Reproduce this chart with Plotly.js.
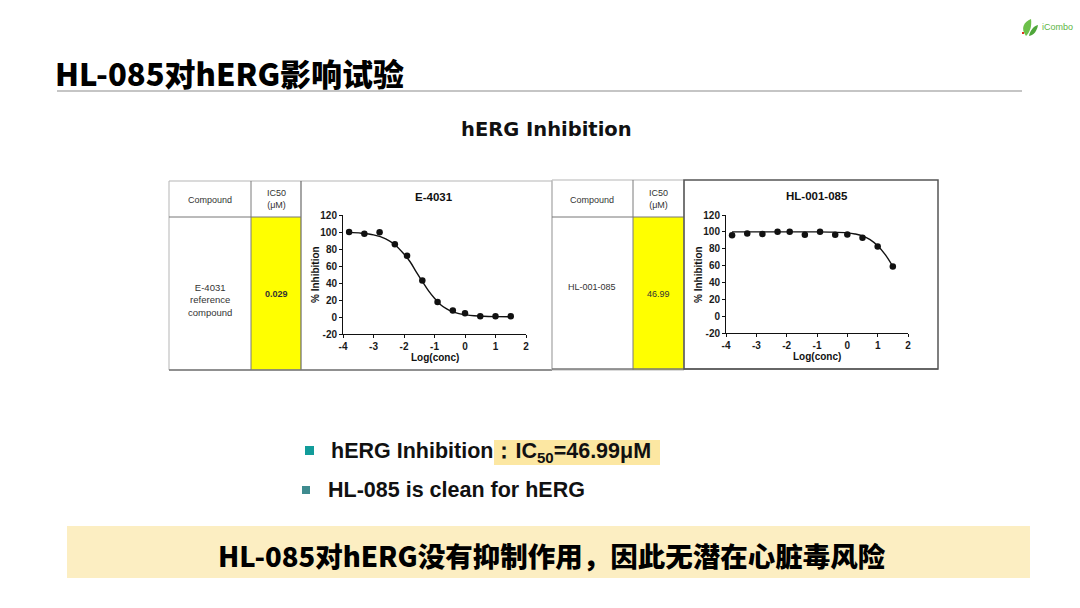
<!DOCTYPE html>
<html>
<head>
<meta charset="utf-8">
<script src="https://cdn.plot.ly/plotly-3.0.1.min.js"></script>
<style>html,body{margin:0;padding:0;background:#fff;}#chart{width:1080px;height:608px;}</style>
</head>
<body>
<div id="chart"></div>
<script>
// ---- data ----
const xTicks = [-4, -3, -2, -1, 0, 1, 2];
const yTicks = [-20, 0, 20, 40, 60, 80, 100, 120];

const e4031LogConc = [-3.8, -3.3, -2.8, -2.3, -1.9, -1.4, -0.9, -0.4, 0.0, 0.5, 1.0, 1.5];
const e4031Inhibition = [100, 98, 99.7, 85.5, 72, 43, 17.5, 7.5, 4.5, 0.8, 0.8, 0.8];
const e4031FitLogConc = [-3.8, -3.4, -3.0, -2.6, -2.3, -2.0, -1.8, -1.6, -1.4, -1.2, -1.0, -0.8, -0.6, -0.4, -0.2, 0.0, 0.3, 0.6, 1.0, 1.5];
const e4031FitInhibition = [99.5, 98.6, 96.6, 92, 85, 74, 65, 53, 42, 31, 22, 14.5, 9.5, 6, 4, 2.8, 1.5, 0.8, 0.4, 0.2];

const hlLogConc = [-3.8, -3.3, -2.8, -2.3, -1.9, -1.4, -0.9, -0.4, 0.0, 0.5, 1.0, 1.5];
const hlInhibition = [96, 98, 97.5, 100, 100, 96.5, 100, 96.5, 97, 93, 82.5, 59];
const hlFitLogConc = [-3.8, -3.0, -2.0, -1.0, -0.5, 0.0, 0.25, 0.5, 0.75, 1.0, 1.25, 1.5];
const hlFitInhibition = [100, 100, 100, 100, 99.7, 98.8, 97.5, 95.3, 90.8, 83.5, 73, 59];

const compounds = ["E-4031<br>reference<br>compound", "HL-001-085"];
const ic50Values = ["0.029", "46.99"];
const chartTitles = ["E-4031", "HL-001-085"];

// ---- helpers (pixel -> paper) ----
const W = 1080, H = 608;
const px = v => v / W;
const py = v => 1 - v / H;
function ann(text, x, y, o) {
  o = o || {};
  return Object.assign({
    xref: 'paper', yref: 'paper', x: px(x), y: py(y), text: text, showarrow: false,
    xanchor: 'center', yanchor: 'middle',
    font: { family: 'Arial, Liberation Sans', size: 9, color: '#333' }
  }, o);
}
function rect(x0, y0, x1, y1, o) {
  return Object.assign({ type: 'rect', xref: 'paper', yref: 'paper', x0: px(x0), x1: px(x1), y0: py(y1), y1: py(y0) }, o);
}
function line(x0, y0, x1, y1, color, w) {
  return { type: 'line', xref: 'paper', yref: 'paper', x0: px(x0), x1: px(x1), y0: py(y0), y1: py(y1), line: { color: color, width: w || 1 } };
}

const tickFont = { family: 'Arial, Liberation Sans', size: 10, color: '#1a1a1a', weight: 'bold' };
function makeX(domain, anchor) {
  return {
    domain: domain, anchor: anchor, range: [-4, 2], tickvals: xTicks, ticktext: xTicks.map(String),
    ticks: 'outside', ticklen: 3, tickwidth: 1, tickcolor: '#111', showline: true, linecolor: '#111', linewidth: 1,
    showgrid: false, zeroline: false, tickfont: tickFont, fixedrange: true
  };
}
function makeY(domain, anchor) {
  return {
    domain: domain, anchor: anchor, range: [-20, 120], tickvals: yTicks, ticktext: yTicks.map(String),
    ticks: 'outside', ticklen: 3, tickwidth: 1, tickcolor: '#111', showline: true, linecolor: '#111', linewidth: 1,
    showgrid: false, zeroline: false, tickfont: tickFont, fixedrange: true
  };
}

const traces = [
  { x: e4031FitLogConc, y: e4031FitInhibition, xaxis: 'x', yaxis: 'y', mode: 'lines', line: { color: '#111', width: 1.4, shape: 'spline' }, hoverinfo: 'skip' },
  { x: e4031LogConc, y: e4031Inhibition, xaxis: 'x', yaxis: 'y', mode: 'markers', marker: { color: '#111', size: 6.5 } },
  { x: hlFitLogConc, y: hlFitInhibition, xaxis: 'x2', yaxis: 'y2', mode: 'lines', line: { color: '#111', width: 1.4, shape: 'spline' }, hoverinfo: 'skip' },
  { x: hlLogConc, y: hlInhibition, xaxis: 'x2', yaxis: 'y2', mode: 'markers', marker: { color: '#111', size: 6.5 } }
];

const shapes = [
  // title underline
  line(57, 91, 1022, 91, '#8c8c8c', 1.2),
  // table 1
  rect(169, 181, 552, 370, { line: { color: '#b5b5b5', width: 1 }, fillcolor: 'rgba(0,0,0,0)' }),
  rect(251, 217, 301, 370, { line: { width: 0 }, fillcolor: '#FFFF00', layer: 'below' }),
  line(251, 181, 251, 370, '#7a7a7a', 1),
  line(301, 181, 301, 370, '#6a6a6a', 1.2),
  line(169, 217, 301, 217, '#777', 1),
  line(169, 370, 552, 370, '#777', 1.3),
  // table 2
  rect(552, 180, 684, 370, { line: { color: '#b5b5b5', width: 1 }, fillcolor: 'rgba(0,0,0,0)' }),
  rect(633, 217, 684, 370, { line: { width: 0 }, fillcolor: '#FFFF00', layer: 'below' }),
  line(633, 180, 633, 370, '#7a7a7a', 1),
  line(552, 217, 684, 217, '#777', 1),
  line(552, 369, 938, 369, '#777', 1.3),
  rect(684, 180, 938, 369, { line: { color: '#555', width: 1.5 }, fillcolor: 'rgba(0,0,0,0)' }),
  // bullets
  rect(305, 446, 314, 455, { line: { width: 0 }, fillcolor: '#129C9A' }),
  rect(302, 486, 310, 494, { line: { width: 0 }, fillcolor: '#3F8B8F' }),
  // highlight
  rect(494, 440, 660, 465, { line: { width: 0 }, fillcolor: '#FCE7A2', layer: 'below' }),
  // bottom banner
  rect(67, 526, 1030, 578, { line: { width: 0 }, fillcolor: '#FCEEC2', layer: 'below' }),
  // logo leaf
  { type: 'path', xref: 'paper', yref: 'paper', path: 'M ' + px(1026) + ' ' + py(36) + ' C ' + px(1020) + ' ' + py(28) + ' ' + px(1024) + ' ' + py(22) + ' ' + px(1031) + ' ' + py(19) + ' C ' + px(1032) + ' ' + py(26) + ' ' + px(1030) + ' ' + py(32) + ' ' + px(1026) + ' ' + py(36) + ' Z', fillcolor: '#6CC04A', line: { width: 0 } },
  { type: 'path', xref: 'paper', yref: 'paper', path: 'M ' + px(1029) + ' ' + py(36) + ' C ' + px(1030) + ' ' + py(30) + ' ' + px(1034) + ' ' + py(26) + ' ' + px(1038) + ' ' + py(25) + ' C ' + px(1037) + ' ' + py(31) + ' ' + px(1034) + ' ' + py(35) + ' ' + px(1029) + ' ' + py(36) + ' Z', fillcolor: '#4FA63A', line: { width: 0 } },
  rect(1022, 32, 1024, 34, { line: { width: 0 }, fillcolor: '#E0301E' })
];

const annotations = [
  ann('HL-085对hERG影响试验', 53, 72, { xanchor: 'left', font: { family: 'Noto Sans CJK SC', size: 31, color: '#000', weight: 900 } }),
  ann('iCombo', 1040, 27, { xanchor: 'left', font: { family: 'Arial, Liberation Sans', size: 9, color: '#5DB544' } }),
  ann('hERG Inhibition', 546, 129, { font: { family: 'DejaVu Sans', size: 19.5, color: '#111', weight: 'bold' } }),
  // table 1 text
  ann('Compound', 210, 200),
  ann('IC50<br>(μM)', 276, 199),
  ann(compounds[0], 210, 300, { font: { family: 'Arial, Liberation Sans', size: 9.5, color: '#333' } }),
  ann(ic50Values[0], 276, 294, { font: { family: 'Arial, Liberation Sans', size: 9, color: '#333', weight: 'bold' } }),
  ann(chartTitles[0], 434, 197, { font: { family: 'Arial, Liberation Sans', size: 11.5, color: '#111', weight: 'bold' } }),
  ann('Log(conc)', 435, 357, { font: { family: 'Arial, Liberation Sans', size: 10, color: '#111', weight: 'bold' } }),
  ann('% Inhibition', 315, 275, { textangle: -90, font: { family: 'Arial, Liberation Sans', size: 10, color: '#111', weight: 'bold' } }),
  // table 2 text
  ann('Compound', 592, 200),
  ann('IC50<br>(μM)', 658, 199),
  ann(compounds[1], 592, 287, { font: { family: 'Arial, Liberation Sans', size: 9, color: '#333' } }),
  ann(ic50Values[1], 658, 294, { font: { family: 'Arial, Liberation Sans', size: 9, color: '#333' } }),
  ann(chartTitles[1], 817, 196, { font: { family: 'Arial, Liberation Sans', size: 11.5, color: '#111', weight: 'bold' } }),
  ann('Log(conc)', 817, 356, { font: { family: 'Arial, Liberation Sans', size: 10, color: '#111', weight: 'bold' } }),
  ann('% Inhibition', 698, 275, { textangle: -90, font: { family: 'Arial, Liberation Sans', size: 10, color: '#111', weight: 'bold' } }),
  // bullets
  ann('hERG Inhibition：IC<sub>50</sub>=46.99μM', 329, 452, { xanchor: 'left', font: { family: 'Arial, Liberation Sans', size: 21.5, color: '#111', weight: 'bold' } }),
  ann('HL-085 is clean for hERG', 326, 490, { xanchor: 'left', font: { family: 'Arial, Liberation Sans', size: 21.5, color: '#111', weight: 'bold' } }),
  // banner
  ann('HL-085对hERG没有抑制作用，因此无潜在心脏毒风险', 552, 555, { font: { family: 'Noto Sans CJK SC', size: 27.5, color: '#000', weight: 900 } })
];

const layout = {
  width: W, height: H, margin: { l: 0, r: 0, t: 0, b: 0 }, paper_bgcolor: '#fff', plot_bgcolor: 'rgba(0,0,0,0)',
  showlegend: false,
  xaxis: makeX([343 / W, 526 / W], 'y'),
  yaxis: makeY([1 - 334 / H, 1 - 215 / H], 'x'),
  xaxis2: makeX([726 / W, 908 / W], 'y2'),
  yaxis2: makeY([1 - 333 / H, 1 - 215 / H], 'x2'),
  shapes: shapes,
  annotations: annotations
};

Plotly.newPlot('chart', traces, layout, { displayModeBar: false, staticPlot: true });
</script>
</body>
</html>
